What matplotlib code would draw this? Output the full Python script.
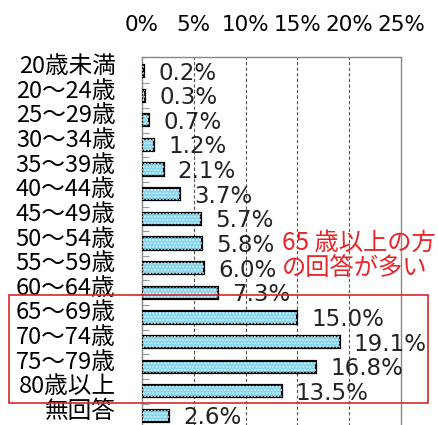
import matplotlib
matplotlib.use("Agg")
import matplotlib.pyplot as plt
import matplotlib.transforms as mtransforms
from matplotlib.patches import Rectangle

plt.rcParams['font.family'] = ['DejaVu Sans', 'Noto Sans CJK JP']

categories = ["20歳未満", "20～24歳", "25～29歳", "30～34歳", "35～39歳",
              "40～44歳", "45～49歳", "50～54歳", "55～59歳", "60～64歳",
              "65～69歳", "70～74歳", "75～79歳", "80歳以上", "無回答"]
values = [0.2, 0.3, 0.7, 1.2, 2.1, 3.7, 5.7, 5.8, 6.0, 7.3,
          15.0, 19.1, 16.8, 13.5, 2.6]
xticks = [0, 5, 10, 15, 20, 25]
xtick_labels = ["0%", "5%", "10%", "15%", "20%", "25%"]
note_lines = ["65 歳以上の方", "の回答が多い"]

W, H = 438, 425
fig = plt.figure(figsize=(W / 100, H / 100), dpi=100)

# axes box: top edge at y=57px, bottom runs past the lower edge of the figure
ax_left, ax_right = 142, 401
ax_top, ax_bottom = 57, 430
ax = fig.add_axes([ax_left / W, (H - ax_bottom) / H,
                   (ax_right - ax_left) / W, (ax_bottom - ax_top) / H])

pos = list(range(len(categories)))
bar_color = '#84d4ee'
ax.barh(pos, values, height=0.5, color=bar_color, edgecolor='black',
        linewidth=1.6, zorder=3)
ax.barh(pos, values, height=0.5, color='none', edgecolor='#d2f1fa',
        linewidth=0, hatch='.....', zorder=3)

ax.set_xlim(0, 25)
ax.set_ylim(14.57, -0.57)

# dashed vertical gridlines
for x in xticks[1:-1]:
    ax.axvline(x, color='#555555', linestyle=(0, (3, 2)), linewidth=0.8, zorder=1)

for side in ['left', 'top', 'right']:
    ax.spines[side].set_color('#888888')
    ax.spines[side].set_linewidth(1.0)
ax.spines['bottom'].set_visible(False)

ax.xaxis.tick_top()
ax.set_xticks(xticks)
ax.set_xticklabels(xtick_labels, fontsize=15.5)
ax.tick_params(axis='x', length=0, pad=16)

# category labels sit a little above each bar; minor ticks mark the boundaries
ax.set_yticks(pos)
ax.set_yticklabels(categories, fontsize=17, family=['Noto Sans CJK JP'])
ax.tick_params(axis='y', which='major', length=0, pad=19)
offset = mtransforms.ScaledTranslation(0, 7 / 100, fig.dpi_scale_trans)
for lbl in ax.get_yticklabels():
    lbl.set_transform(lbl.get_transform() + offset)
ax.set_yticks([p + 0.5 for p in pos[:-1]], minor=True)
ax.tick_params(axis='y', which='minor', direction='in', length=5,
               color='#999999', width=0.8)

# value labels
for p, v in zip(pos, values):
    ax.annotate(f"{v:.1f}%", xy=(v, p), xytext=(14, -2),
                textcoords='offset pixels',
                ha='left', va='center', fontsize=16.5, color='#222222', zorder=4)

# red note and box around the 65+ rows
fig.text(282 / W, 1 - 243 / H, note_lines[0], color='#e8262a', fontsize=17.5,
         ha='left', va='center', family=['Noto Sans CJK JP'])
fig.text(282 / W, 1 - 268 / H, note_lines[1], color='#e8262a', fontsize=17.5,
         ha='left', va='center', family=['Noto Sans CJK JP'])
fig.patches.append(Rectangle((9 / W, 1 - 403 / H), (428 - 9) / W, (403 - 295) / H,
                             transform=fig.transFigure, fill=False,
                             edgecolor='#d9262c', linewidth=1.2, zorder=5))

fig.savefig("out.png", dpi=100)
